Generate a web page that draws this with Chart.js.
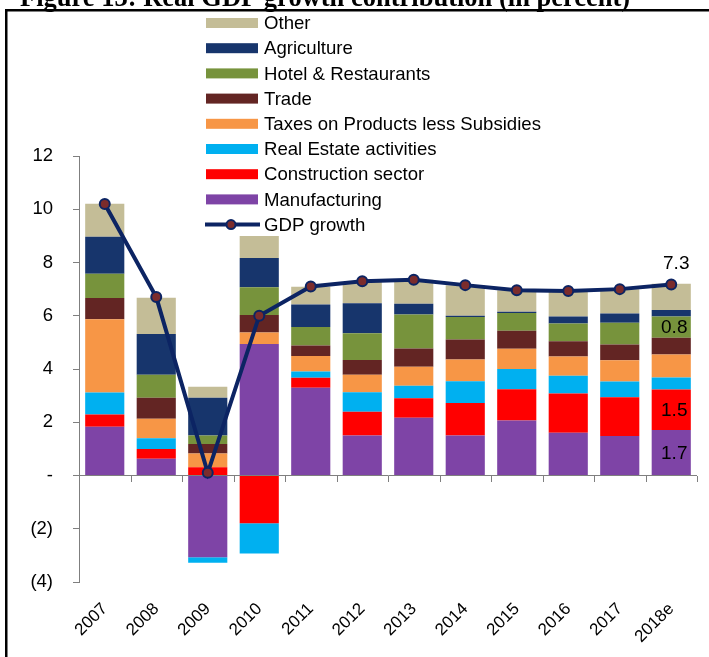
<!DOCTYPE html>
<html>
<head>
<meta charset="utf-8">
<script src="https://cdn.jsdelivr.net/npm/chart.js@4.4.0/dist/chart.umd.min.js"></script>
<style>
  html, body { margin: 0; padding: 0; background: #fff; }
  #wrap { position: relative; width: 709px; height: 657px; overflow: hidden; }
</style>
</head>
<body>
<div id="wrap"><canvas id="gdpChart" width="709" height="657"></canvas></div>
<script>
// data (percentage points)
const YEARS = ['2007', '2008', '2009', '2010', '2011', '2012', '2013', '2014', '2015', '2016', '2017', '2018e'];
const MANUFACTURING = [1.83, 0.63, -3.07, 4.94, 3.30, 1.50, 2.17, 1.50, 2.07, 1.61, 1.48, 1.71];
const CONSTRUCTION = [0.46, 0.37, 0.31, -1.79, 0.37, 0.89, 0.73, 1.22, 1.17, 1.47, 1.46, 1.52];
const REAL_ESTATE = [0.83, 0.40, -0.21, -1.14, 0.24, 0.74, 0.47, 0.82, 0.76, 0.67, 0.59, 0.45];
const TAXES = [2.75, 0.73, 0.52, 0.43, 0.58, 0.65, 0.71, 0.82, 0.76, 0.72, 0.80, 0.86];
const TRADE = [0.80, 0.79, 0.35, 0.66, 0.39, 0.56, 0.69, 0.75, 0.68, 0.57, 0.59, 0.63];
const HOTEL = [0.91, 0.86, 0.32, 1.04, 0.70, 1.00, 1.28, 0.84, 0.66, 0.67, 0.82, 0.80];
const AGRICULTURE = [1.39, 1.53, 1.42, 1.10, 0.84, 1.13, 0.40, 0.05, 0.05, 0.26, 0.34, 0.25];
const OTHER = [1.24, 1.37, 0.41, 0.83, 0.67, 0.80, 0.90, 1.15, 0.81, 0.96, 0.92, 0.98];
const GDP = [10.2, 6.7, 0.1, 6.0, 7.1, 7.3, 7.35, 7.15, 6.96, 6.93, 7.0, 7.17];

// value labels on the last bar
const LABEL_SERIES = ['GDP growth', 'Hotel & Restaurants', 'Construction sector', 'Manufacturing'];
const LABEL_TEXTS = ['7.3', '0.8', '1.5', '1.7'];

const Y_TICKS = { min: -4, max: 12, step: 2 };
const TITLE = 'Figure 13: Real GDP growth contribution (in percent)';

const FONT = "'Liberation Sans', Arial, sans-serif";
Chart.defaults.font.family = FONT;

function bar(label, data, color) {
  return { type: 'bar', label, data, backgroundColor: color, order: 1, barPercentage: 0.76, categoryPercentage: 1.0 };
}

// frame, title, legend, tick marks, value labels
const decorPlugin = {
  id: 'decor',
  afterDatasetsDraw(chart) {
    const ctx = chart.ctx;
    const xs = chart.scales.x, ys = chart.scales.y;
    const y0 = ys.getPixelForValue(0);
    const step = xs.getPixelForValue(1) - xs.getPixelForValue(0);

    // small ticks between categories on the zero line
    ctx.save();
    ctx.strokeStyle = '#7f7f7f';
    ctx.lineWidth = 1;
    ctx.beginPath();
    for (let i = 0; i < YEARS.length; i++) {
      const bx = Math.round(xs.getPixelForValue(i) + step / 2) + 0.5;
      ctx.moveTo(bx, Math.round(y0));
      ctx.lineTo(bx, Math.round(y0) + 6);
    }
    ctx.stroke();

    // value labels
    ctx.fillStyle = '#000';
    ctx.font = '19px ' + FONT;
    ctx.textAlign = 'center';
    ctx.textBaseline = 'middle';
    const last = YEARS.length - 1;
    LABEL_SERIES.forEach((name, k) => {
      const di = chart.data.datasets.findIndex(d => d.label === name);
      const el = chart.getDatasetMeta(di).data[last];
      if (chart.data.datasets[di].type === 'line') {
        ctx.fillText(LABEL_TEXTS[k], el.x + 5, el.y - 21);
      } else {
        ctx.fillText(LABEL_TEXTS[k], el.x + 3, (el.y + el.base) / 2 + 1);
      }
    });
    ctx.restore();
  },
  afterDraw(chart) {
    const ctx = chart.ctx;
    ctx.save();
    // frame
    ctx.fillStyle = '#000';
    ctx.fillRect(5, 9, 704, 2.5);
    ctx.fillRect(5, 9, 2.5, 648);
    // title (cut at the top, as in the source)
    ctx.font = 'bold 26.5px "Liberation Serif", "Times New Roman", serif';
    ctx.textAlign = 'left';
    ctx.textBaseline = 'alphabetic';
    ctx.fillText(TITLE, 20, 6);

    // legend: bars top-down, then the line
    const bars = chart.data.datasets.filter(d => d.type === 'bar').slice().reverse();
    const lines = chart.data.datasets.filter(d => d.type === 'line');
    const items = bars.concat(lines);
    ctx.font = '18.6px ' + FONT;
    ctx.textBaseline = 'middle';
    items.forEach((d, i) => {
      const cy = 23 + i * 25.2;
      if (d.type === 'bar') {
        ctx.fillStyle = d.backgroundColor;
        ctx.fillRect(206, cy - 5, 52, 10);
      } else {
        ctx.strokeStyle = d.borderColor;
        ctx.lineWidth = 4;
        ctx.beginPath();
        ctx.moveTo(205, cy);
        ctx.lineTo(260, cy);
        ctx.stroke();
        ctx.beginPath();
        ctx.arc(231, cy, 4.5, 0, Math.PI * 2);
        ctx.fillStyle = d.pointBackgroundColor;
        ctx.fill();
        ctx.lineWidth = 2;
        ctx.stroke();
      }
      ctx.fillStyle = '#000';
      ctx.fillText(d.label, 264, cy + 1);
    });
    ctx.restore();
  }
};

new Chart(document.getElementById('gdpChart'), {
  data: {
    labels: YEARS,
    datasets: [
      bar('Manufacturing', MANUFACTURING, '#7e44a6'),
      bar('Construction sector', CONSTRUCTION, '#ff0000'),
      bar('Real Estate activities', REAL_ESTATE, '#00b0f0'),
      bar('Taxes on Products less Subsidies', TAXES, '#f79646'),
      bar('Trade', TRADE, '#632523'),
      bar('Hotel & Restaurants', HOTEL, '#77933c'),
      bar('Agriculture', AGRICULTURE, '#17356c'),
      bar('Other', OTHER, '#c4bd97'),
      {
        type: 'line', label: 'GDP growth', data: GDP, order: 0, stack: 'gdp',
        borderColor: '#0c2463', borderWidth: 4, tension: 0,
        pointRadius: 5, pointBackgroundColor: '#7b2c2c', pointBorderColor: '#0c2463', pointBorderWidth: 2
      }
    ]
  },
  options: {
    responsive: false,
    animation: false,
    devicePixelRatio: 1,
    layout: { padding: { left: 0, right: 12, top: 156, bottom: 0 } },
    plugins: { legend: { display: false }, tooltip: { enabled: false } },
    scales: {
      x: {
        stacked: true,
        grid: { display: false, offset: true },
        border: { display: false },
        ticks: { color: '#000', font: { size: 17 }, minRotation: 45, maxRotation: 45, autoSkip: false, padding: 9 },
        afterFit: s => { s.height = 75; }
      },
      y: {
        stacked: true,
        min: Y_TICKS.min,
        max: Y_TICKS.max,
        ticks: {
          stepSize: Y_TICKS.step, color: '#000', font: { size: 18.5 }, padding: 20,
          callback: v => v === 0 ? '-' : (v < 0 ? '(' + (-v) + ')' : String(v))
        },
        grid: {
          color: c => (c.tick && c.tick.value === 0) ? '#7f7f7f' : 'rgba(0,0,0,0)',
          tickColor: '#7f7f7f', tickLength: 6, lineWidth: 1
        },
        border: { display: true, color: '#7f7f7f', width: 1 },
        afterFit: s => { s.width = 79; }
      }
    }
  },
  plugins: [decorPlugin]
});
</script>
</body>
</html>
